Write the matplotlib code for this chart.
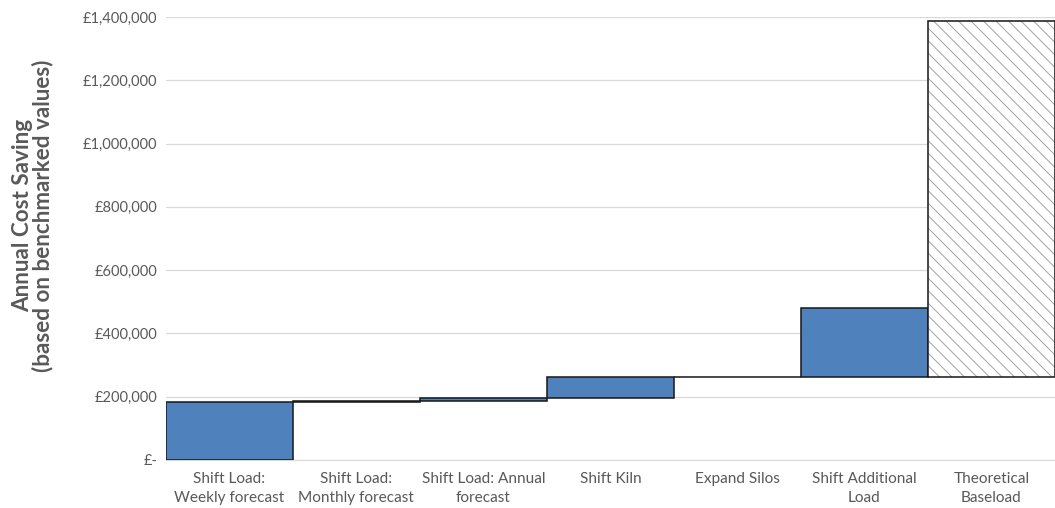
import matplotlib.pyplot as plt
import numpy as np
from matplotlib.ticker import FuncFormatter

categories = ['Shift Load:\nWeekly forecast', 'Shift Load:\nMonthly forecast',
              'Shift Load: Annual\nforecast', 'Shift Kiln', 'Expand Silos',
              'Shift Additional\nLoad', 'Theoretical\nBaseload']
savings = [183000, 4000, 8000, 66000, 2000, 216000]
theoretical_total = 1387000

plt.rcParams['font.family'] = ['Lato', 'DejaVu Sans']
plt.rcParams['hatch.linewidth'] = 0.45

fig = plt.figure(figsize=(1055 / 150, 508 / 150), dpi=150)
ax = fig.add_axes([0.157, 0.0945, 0.843, 0.872])

x = np.arange(len(categories))
tops = np.cumsum(savings)
bottoms = tops - np.array(savings)

ax.bar(x[:-1], savings, bottom=bottoms, width=1.0, color='#4f81bd',
       edgecolor='#1a1a1a', linewidth=0.75, zorder=3)

# theoretical baseload starts from the level before the additional load
base = bottoms[-1]
rest = theoretical_total - base
ax.bar(x[-1], rest, bottom=base, width=1.0, color='white',
       edgecolor='#a0a0a0', hatch='\\\\\\\\', linewidth=0, zorder=3)
ax.bar(x[-1], rest, bottom=base, width=1.0, fill=False,
       edgecolor='#1a1a1a', linewidth=0.75, zorder=4)

ax.set_xlim(-0.5, len(categories) - 0.5)
ax.set_ylim(0, 1400000)
ax.set_yticks(np.arange(0, 1400001, 200000))
ax.yaxis.set_major_formatter(FuncFormatter(lambda v, p: '£-' if v == 0 else f'£{v:,.0f}'))
ax.set_xticks(x)
ax.set_xticklabels(categories, linespacing=1.4)

ax.grid(axis='y', color='#d9d9d9', linewidth=0.6, zorder=0)
ax.set_axisbelow(True)
for s in ['top', 'right', 'left']:
    ax.spines[s].set_visible(False)
ax.spines['bottom'].set_color('#d9d9d9')
ax.spines['bottom'].set_linewidth(0.6)
ax.tick_params(length=0, colors='#595959')
ax.tick_params(axis='y', pad=4, labelsize=7.0)
ax.tick_params(axis='x', pad=6, labelsize=7.4)

ax.set_ylabel('Annual Cost Saving\n(based on benchmarked values)', fontsize=10.8,
              fontweight='bold', color='#595959', linespacing=0.95)
ax.yaxis.set_label_coords(-0.126, 0.551)

fig.savefig('out.png', dpi=150)
